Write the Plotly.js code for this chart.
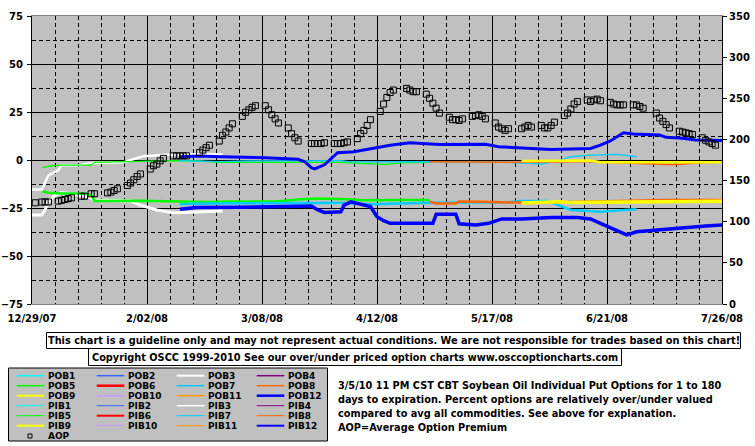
<!DOCTYPE html>
<html><head><meta charset="utf-8">
<script src="https://cdn.plot.ly/plotly-3.0.1.min.js"></script>
<style>html,body{margin:0;padding:0;background:#fff;}#chart{width:755px;height:446px;}</style>
</head><body><div id="chart"></div>
<script>
// ---------- DATA ----------
const seriesNamesPOB = ['POB1','POB2','POB3','POB4','POB5','POB6','POB7','POB8','POB9','POB10','POB11','POB12'];
const seriesNamesPIB = ['PIB1','PIB2','PIB3','PIB4','PIB5','PIB6','PIB7','PIB8','PIB9','PIB10','PIB11','PIB12'];
const seriesColors = ['#00FFFF','#3366FF','#FFFFFF','#800080','#00FF00','#FF0000','#00CCFF','#FF6600','#FFFF00','#CC99FF','#FF9900','#0000FF'];
const legendWidthsPOB = [1.5,1.5,2,1.5,1.5,2.5,1.5,1.5,2,1.5,1.5,2.5];
const legendWidthsPIB = [1,1,1.5,1,1,2,1,1,2,1,1,2];

const xTickStart = '2007-12-29';
const xTickEnd = '2008-07-26';

const aopDates = ['2007-12-30','2008-01-01','2008-01-02','2008-01-03','2008-01-06','2008-01-07','2008-01-08','2008-01-09','2008-01-10','2008-01-13','2008-01-14','2008-01-16','2008-01-17','2008-01-21','2008-01-22','2008-01-23','2008-01-24','2008-01-27','2008-01-28','2008-01-29','2008-01-30','2008-01-31','2008-02-03','2008-02-04','2008-02-05','2008-02-06','2008-02-07','2008-02-10','2008-02-11','2008-02-12','2008-02-13','2008-02-14','2008-02-18','2008-02-19','2008-02-20','2008-02-21','2008-02-24','2008-02-25','2008-02-26','2008-02-27','2008-02-28','2008-03-02','2008-03-03','2008-03-04','2008-03-05','2008-03-06','2008-03-09','2008-03-10','2008-03-11','2008-03-12','2008-03-13','2008-03-16','2008-03-17','2008-03-18','2008-03-19','2008-03-23','2008-03-24','2008-03-25','2008-03-26','2008-03-27','2008-03-30','2008-03-31','2008-04-01','2008-04-02','2008-04-03','2008-04-06','2008-04-07','2008-04-08','2008-04-09','2008-04-10','2008-04-13','2008-04-14','2008-04-15','2008-04-16','2008-04-17','2008-04-21','2008-04-22','2008-04-23','2008-04-24','2008-04-27','2008-04-28','2008-04-29','2008-04-30','2008-05-01','2008-05-04','2008-05-05','2008-05-06','2008-05-07','2008-05-08','2008-05-11','2008-05-12','2008-05-13','2008-05-14','2008-05-15','2008-05-18','2008-05-19','2008-05-20','2008-05-21','2008-05-22','2008-05-26','2008-05-27','2008-05-28','2008-05-29','2008-06-01','2008-06-02','2008-06-03','2008-06-04','2008-06-05','2008-06-08','2008-06-09','2008-06-10','2008-06-11','2008-06-12','2008-06-15','2008-06-16','2008-06-17','2008-06-18','2008-06-19','2008-06-22','2008-06-23','2008-06-24','2008-06-25','2008-06-26','2008-06-29','2008-06-30','2008-07-01','2008-07-02','2008-07-06','2008-07-07','2008-07-08','2008-07-09','2008-07-10','2008-07-13','2008-07-14','2008-07-15','2008-07-16','2008-07-17','2008-07-20','2008-07-21','2008-07-22','2008-07-23','2008-07-24'];
const aopValues = [123,124,124,124,125,126,127,128,129,131,131,134,134,135,136,138,140,144,147,151,155,158,164,168,170,174,177,180,180,180,180,180,184,187,190,193,198,205,209,214,219,228,233,236,239,241,241,236,230,225,220,214,207,202,198,195,195,195,195,196,195,195,195,196,197,201,207,211,217,224,234,243,251,257,260,262,260,258,258,255,250,244,238,232,227,224,224,223,225,228,229,230,228,225,220,215,213,211,213,213,215,217,215,217,214,214,217,221,229,232,237,243,246,248,246,248,249,247,245,243,242,242,242,242,242,240,238,232,226,222,218,214,210,209,208,207,206,202,199,197,195,193];

const pob3Dates = ['2007-12-29','2008-01-01','2008-01-02','2008-01-03','2008-01-05','2008-01-07','2008-01-11','2008-01-15','2008-01-17','2008-01-28','2008-01-31','2008-02-05','2008-02-10','2008-02-13','2008-02-25'];
const pob3Values = [-28.6,-28.6,-26,-21.5,-18.5,-17,-18,-19,-20.8,-21.4,-23.5,-26,-27.5,-27.4,-26.6];
const pib3Dates = ['2007-12-29','2008-01-01','2008-01-03','2008-01-06','2008-01-07','2008-01-13','2008-01-16','2008-01-26','2008-01-29','2008-02-01','2008-02-08','2008-02-15','2008-02-25'];
const pib3Values = [-15.3,-15.3,-8,-5.3,-2.7,-2.6,-1.6,-1.2,0.5,2,2.7,3,2.8];

const pob5Dates = ['2008-01-01','2008-01-03','2008-01-07','2008-01-13','2008-01-16','2008-01-17','2008-01-31','2008-02-20','2008-02-27','2008-03-12','2008-03-20','2008-03-25','2008-04-03','2008-04-08','2008-04-19','2008-04-28'];
const pob5Values = [-16.2,-17,-17.5,-17.5,-18,-21.4,-21.2,-21.9,-21.6,-21.6,-20.5,-20,-20.5,-21,-20.8,-20.8];
const pib5Dates = ['2008-01-01','2008-01-04','2008-01-07','2008-01-16','2008-01-17','2008-01-31','2008-02-10','2008-02-18','2008-02-23','2008-03-04','2008-03-20','2008-04-01','2008-04-10','2008-04-15','2008-04-19','2008-04-28'];
const pib5Values = [-4,-3,-2.7,-2.7,-1.2,-0.6,-0.3,-0.5,-1.2,-1.2,-1.4,-1.2,-2,-2.3,-1.5,-1.2];

const pob7Dates = ['2008-02-12','2008-02-15','2008-02-23','2008-03-10','2008-03-31','2008-04-10','2008-04-19','2008-04-28','2008-05-22','2008-05-26','2008-06-03','2008-06-06','2008-06-10','2008-06-19','2008-06-24','2008-06-30'];
const pob7Values = [-23.1,-22.8,-22.6,-22.3,-22.3,-23,-22.5,-22.3,-22,-21.4,-21.4,-23.5,-26,-26.9,-26.5,-25.7];
const pib7Dates = ['2008-02-12','2008-02-24','2008-03-04','2008-03-20','2008-04-01','2008-04-04','2008-04-28','2008-05-22','2008-06-01','2008-06-06','2008-06-10','2008-06-16','2008-06-21','2008-06-24','2008-06-30'];
const pib7Values = [-0.3,-0.8,-0.5,-0.3,-0.3,-1,-0.9,-1.2,-2.2,-0.4,1.7,2.5,2.9,2.9,1.7];

const pob8Dates = ['2008-04-28','2008-04-30','2008-05-06','2008-05-07','2008-05-14','2008-05-22','2008-06-06','2008-06-25','2008-07-09','2008-07-26'];
const pob8Values = [-21.7,-22.6,-22.6,-21.6,-21.8,-22.1,-22,-21.4,-20.8,-20.8];
const pib8Dates = ['2008-04-28','2008-05-22','2008-05-26','2008-06-17','2008-06-19','2008-07-09','2008-07-13','2008-07-18','2008-07-26'];
const pib8Values = [-0.9,-0.9,-1.2,-0.7,-1.2,-2.3,-2.3,-1.6,-1.2];

const pob9Dates = ['2008-05-26','2008-06-04','2008-06-07','2008-06-10','2008-06-19','2008-07-01','2008-07-26'];
const pob9Values = [-22.4,-21.6,-21.7,-22.2,-22,-21.7,-21.5];
const pib9Dates = ['2008-05-26','2008-06-08','2008-06-16','2008-06-19','2008-07-26'];
const pib9Values = [-0.5,-0.5,-0.3,-1.2,-1.2];

const pob12Dates = ['2008-02-12','2008-02-17','2008-03-01','2008-03-19','2008-03-23','2008-03-25','2008-03-27','2008-04-01','2008-04-02','2008-04-04','2008-04-08','2008-04-10','2008-04-12','2008-04-14','2008-04-16','2008-04-29','2008-04-30','2008-05-06','2008-05-07','2008-05-12','2008-05-16','2008-05-20','2008-05-26','2008-06-04','2008-06-12','2008-06-16','2008-06-19','2008-06-24','2008-06-27','2008-06-30','2008-07-06','2008-07-11','2008-07-21','2008-07-26'];
const pob12Values = [-25.6,-24.8,-24.6,-24,-24,-26,-27.3,-27,-23.5,-21.8,-23.3,-24.3,-29.5,-31.6,-33,-33,-28.3,-28.3,-33.2,-33.8,-33,-30.7,-30.7,-29.9,-29.9,-30.7,-33,-36.5,-39,-37.4,-36.5,-35.6,-34.4,-33.9];
const pib12Dates = ['2008-02-12','2008-02-18','2008-02-25','2008-03-09','2008-03-19','2008-03-21','2008-03-23','2008-03-24','2008-03-27','2008-03-29','2008-03-31','2008-04-05','2008-04-08','2008-04-12','2008-04-16','2008-04-22','2008-05-01','2008-05-15','2008-05-19','2008-05-29','2008-06-04','2008-06-16','2008-06-19','2008-06-22','2008-06-25','2008-06-26','2008-06-29','2008-07-07','2008-07-09','2008-07-14','2008-07-18','2008-07-26'];
const pib12Values = [1.7,2.1,1.7,1.2,0.4,-0.9,-4,-4.6,-2.5,0.8,3.8,4.3,5.3,6.3,7.7,9,8.1,8.2,6.9,6,5.5,6,7.7,9.9,13,14.2,13.5,13,11.8,11.3,10.4,10.1];

const disclaimerText = 'This chart is a guideline only and may not represent actual conditions. We are not responsible for trades based on this chart!';
const copyrightText = 'Copyright OSCC 1999-2010 See our over/under priced option charts www.osccoptioncharts.com';
const noteLines = ['3/5/10 11 PM CST CBT Soybean Oil Individual Put Options for 1 to 180','days to expiration. Percent options are relatively over/under valued','compared to avg all commodities. See above for explanation.','AOP=Average Option Premium'];

// ---------- BUILD ----------
const FONT = 'DejaVu Sans, Verdana, sans-serif';
const PL = 32, PR = 722, PT = 16, PB = 304;
const px = x => (x - PL) / (PR - PL);
const py = y => (PB - y) / (PB - PT);

function lineTrace(dates, values, colorIdx, width, name) {
  return {type:'scatter', mode:'lines', x:dates, y:values, name:name,
    line:{color:seriesColors[colorIdx], width:width}, hoverinfo:'skip', yaxis:'y'};
}
const traces = [
  lineTrace(pob3Dates, pob3Values, 2, 3, 'POB3'),
  lineTrace(pob5Dates, pob5Values, 4, 2.5, 'POB5'),
  lineTrace(pob7Dates, pob7Values, 6, 2.5, 'POB7'),
  lineTrace(pob8Dates, pob8Values, 7, 2.5, 'POB8'),
  lineTrace(pob9Dates, pob9Values, 8, 3.5, 'POB9'),
  lineTrace(pob12Dates, pob12Values, 11, 3.5, 'POB12'),
  lineTrace(pib3Dates, pib3Values, 2, 2.5, 'PIB3'),
  lineTrace(pib5Dates, pib5Values, 4, 1.3, 'PIB5'),
  lineTrace(pib7Dates, pib7Values, 6, 1.3, 'PIB7'),
  lineTrace(pib8Dates, pib8Values, 7, 1.6, 'PIB8'),
  lineTrace(pib9Dates, pib9Values, 8, 2.5, 'PIB9'),
  lineTrace(pib12Dates, pib12Values, 11, 3, 'PIB12'),
  {type:'scatter', mode:'markers', x:aopDates, y:aopValues, name:'AOP', yaxis:'y2',
   marker:{symbol:'square-open', size:6, color:'#000', line:{width:1, color:'#000'}}, hoverinfo:'skip'}
];

const shapes = [];
const annotations = [];
const boxFont = {family:FONT, size:9.75, weight:'bold', color:'#000'};
const legFont = {family:FONT, size:9, weight:'bold', color:'#000'};
// disclaimer boxes
shapes.push({type:'rect', xref:'paper', yref:'paper', x0:px(46.5), x1:px(740.5), y0:py(348.5), y1:py(332.5), line:{color:'#000', width:1}, fillcolor:'#fff', layer:'above'});
shapes.push({type:'rect', xref:'paper', yref:'paper', x0:px(88.5), x1:px(621.5), y0:py(365.5), y1:py(348.5), line:{color:'#000', width:1}, fillcolor:'#fff', layer:'above'});
annotations.push({xref:'paper', yref:'paper', x:px(393.5), y:py(340.5), text:disclaimerText, showarrow:false, xanchor:'center', yanchor:'middle', font:boxFont, borderpad:0});
annotations.push({xref:'paper', yref:'paper', x:px(355), y:py(357.2), text:copyrightText, showarrow:false, xanchor:'center', yanchor:'middle', font:boxFont, borderpad:0});
// legend box
shapes.push({type:'rect', xref:'paper', yref:'paper', x0:px(8.5), x1:px(327.5), y0:py(441), y1:py(368), line:{color:'#000', width:1}, fillcolor:'#C0C0C0', layer:'above'});
for (let r = 0; r < 6; r++) {
  for (let c = 0; c < 4; c++) {
    const isPOB = r < 3;
    const idx = (r % 3) * 4 + c;
    const name = isPOB ? seriesNamesPOB[idx] : seriesNamesPIB[idx];
    const w = isPOB ? legendWidthsPOB[idx] : legendWidthsPIB[idx];
    const yy = 375.7 + 10 * r;
    const x0 = 16.7 + 80 * c;
    shapes.push({type:'line', xref:'paper', yref:'paper', x0:px(x0), x1:px(x0 + 27.6), y0:py(yy), y1:py(yy), line:{color:seriesColors[idx], width:w}, layer:'above'});
    annotations.push({xref:'paper', yref:'paper', x:px(x0 + 29.8), y:py(yy), text:name, showarrow:false, xanchor:'left', yanchor:'middle', font:legFont, borderpad:0});
  }
}
shapes.push({type:'rect', xref:'paper', yref:'paper', x0:px(28), x1:px(32), y0:py(438), y1:py(434), line:{color:'#000', width:1}, fillcolor:'rgba(0,0,0,0)', layer:'above'});
annotations.push({xref:'paper', yref:'paper', x:px(46.5), y:py(436), text:'AOP', showarrow:false, xanchor:'left', yanchor:'middle', font:legFont, borderpad:0});
// note text, one annotation per line
noteLines.forEach((t, i) => {
  annotations.push({xref:'paper', yref:'paper', x:px(337), y:py(385 + 14 * i), text:t, showarrow:false, xanchor:'left', yanchor:'middle', align:'left', font:boxFont, borderpad:0});
});

const DAY = 86400000;
const tickFont = {family:FONT, size:10, weight:'bold', color:'#000'};
const layout = {
  width:755, height:446,
  margin:{l:PL, r:755-PR, t:PT, b:446-PB, pad:0},
  paper_bgcolor:'#FFFFFF', plot_bgcolor:'#C0C0C0',
  showlegend:false,
  font:{family:FONT, size:10, weight:'bold', color:'#000'},
  xaxis:{type:'date', range:[xTickStart, xTickEnd], tick0:xTickStart, dtick:35*DAY, tickformat:'%-m/%d/%y',
    showgrid:true, gridcolor:'#000', gridwidth:1, ticks:'', tickfont:tickFont, ticklabelstandoff:5,
    minor:{tick0:xTickStart, dtick:7*DAY, showgrid:true, gridcolor:'#000', gridwidth:1, griddash:'4px,3px'},
    showline:true, linecolor:'#808080', linewidth:1, mirror:true, zeroline:false, fixedrange:true},
  yaxis:{range:[-75,75], tick0:0, dtick:25, ticks:'outside', ticklen:4, tickcolor:'#000', tickwidth:1,
    showgrid:true, gridcolor:'#000', gridwidth:1,
    minor:{tick0:0, dtick:12.5, showgrid:true, gridcolor:'#000', gridwidth:1, griddash:'4px,3px'},
    showline:true, linecolor:'#000', linewidth:1, zeroline:false, tickfont:tickFont, ticklabelstandoff:2, fixedrange:true},
  yaxis2:{range:[0,350], tick0:0, dtick:50, overlaying:'y', side:'right', ticks:'outside', ticklen:4, tickcolor:'#000', tickwidth:1,
    showgrid:false, showline:true, linecolor:'#000', linewidth:1, zeroline:false, tickfont:tickFont, fixedrange:true},
  shapes:shapes, annotations:annotations
};
Plotly.newPlot('chart', traces, layout, {displayModeBar:false, staticPlot:true});
</script>
</body></html>
